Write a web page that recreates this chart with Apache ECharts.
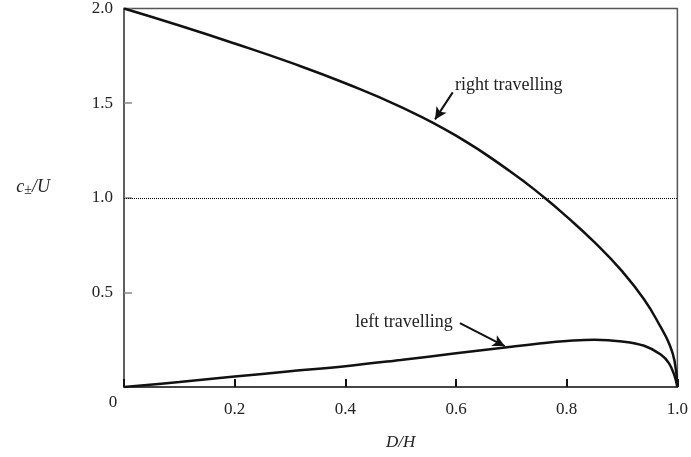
<!DOCTYPE html>
<html>
<head>
<meta charset="utf-8">
<script src="https://cdn.jsdelivr.net/npm/echarts@6/dist/echarts.min.js"></script>
<style>
  html, body { margin: 0; padding: 0; background: #fff; }
  #main { width: 691px; height: 457px; }
</style>
</head>
<body>
<div id="main"></div>
<script>
const ratio = [0, 0.1, 0.2, 0.3, 0.4, 0.5, 0.6, 0.7, 0.76, 0.8, 0.85, 0.9, 0.94, 0.97, 0.985, 0.995, 1.0]
// c+/U  (right travelling)
const rightVals = [2.0, 1.91, 1.815, 1.715, 1.605, 1.48, 1.328, 1.135, 1.0, 0.9, 0.765, 0.612, 0.462, 0.316, 0.23, 0.136, 0]
// c-/U  (left travelling)
const leftVals = [0, 0.026, 0.055, 0.083, 0.11, 0.143, 0.178, 0.213, 0.233, 0.243, 0.25, 0.241, 0.218, 0.172, 0.125, 0.058, 0]
const xTicks = [0, 0.2, 0.4, 0.6, 0.8, 1.0]
const yTicks = [0, 0.5, 1.0, 1.5, 2.0]

const font = 'Liberation Serif'
const txt = '#222'

const myChart = echarts.init(document.getElementById('main'))
window.addEventListener('resize', function () {
  myChart.resize()
})

function pairs (vals) {
  return ratio.map(function (r, i) { return [r, vals[i]] })
}

const option = {
  animation: false,
  backgroundColor: '#fff',
  grid: {
    left: 124,
    right: 10,
    top: 8,
    bottom: 70,
    show: true,
    borderColor: '#555',
    borderWidth: 1.5
  },
  xAxis: {
    type: 'value',
    min: xTicks[0],
    max: xTicks[xTicks.length - 1],
    interval: 0.2,
    name: 'D/H',
    nameLocation: 'middle',
    nameGap: 47,
    nameTextStyle: { fontFamily: font, fontStyle: 'italic', fontSize: 17, color: txt },
    axisLine: { lineStyle: { color: '#333', width: 1.5 } },
    axisTick: { inside: true, length: 8, lineStyle: { color: '#111', width: 2 } },
    splitLine: { show: false },
    axisLabel: {
      margin: 14,
      fontFamily: font,
      fontSize: 17,
      color: txt,
      formatter: function (v) {
        if (v === 0) return ''
        return v.toFixed(1)
      }
    }
  },
  yAxis: {
    type: 'value',
    min: yTicks[0],
    max: yTicks[yTicks.length - 1],
    interval: 0.5,
    name: '{i|c}{s|±}{i|/U}',
    nameLocation: 'middle',
    nameRotate: 0,
    nameGap: 74,
    nameTextStyle: {
      padding: [0, 0, 20, 0],
      rich: {
        i: { fontFamily: font, fontStyle: 'italic', fontSize: 18, color: txt },
        s: { fontFamily: font, fontSize: 14, color: txt, verticalAlign: 'bottom', padding: [6, 0, 0, 0] }
      }
    },
    axisLine: { lineStyle: { color: '#555', width: 1.5 } },
    axisTick: { inside: true, length: 8, lineStyle: { color: '#888', width: 1.5 } },
    splitLine: { show: false },
    axisLabel: {
      margin: 11,
      fontFamily: font,
      fontSize: 17,
      color: txt,
      formatter: function (v) {
        if (v === 0) return ''
        return v.toFixed(1)
      }
    }
  },
  series: [
    {
      name: 'right travelling',
      type: 'line',
      data: pairs(rightVals),
      smooth: 0.5,
      showSymbol: false,
      lineStyle: { color: '#111', width: 2.5 },
      markLine: {
        silent: true,
        animation: false,
        label: { show: false },
        data: [
          [
            { coord: [0, 1.0], symbol: 'none', lineStyle: { type: 'dotted', width: 1, color: '#000' } },
            { coord: [1, 1.0], symbol: 'none' }
          ],
          [
            { coord: [0.594, 1.557], symbol: 'none', lineStyle: { type: 'solid', width: 2, color: '#111' } },
            { coord: [0.562, 1.414], symbol: 'arrow', symbolSize: [9, 12] }
          ]
        ]
      },
      markPoint: {
        symbolSize: 0,
        silent: true,
        label: { show: true, position: 'right', distance: 0, formatter: '{b}', fontFamily: font, fontSize: 18, color: txt },
        data: [
          { name: 'right travelling', coord: [0.598, 1.594] },
          { name: '0', coord: [0, 0], label: { position: 'inside', fontSize: 17, offset: [-11, 16] } }
        ]
      }
    },
    {
      name: 'left travelling',
      type: 'line',
      data: pairs(leftVals),
      smooth: 0.4,
      showSymbol: false,
      lineStyle: { color: '#111', width: 2.5 },
      markLine: {
        silent: true,
        animation: false,
        label: { show: false },
        data: [
          [
            { coord: [0.607, 0.338], symbol: 'none', lineStyle: { type: 'solid', width: 2, color: '#111' } },
            { coord: [0.688, 0.216], symbol: 'arrow', symbolSize: [9, 12] }
          ]
        ]
      },
      markPoint: {
        symbolSize: 0,
        silent: true,
        label: { show: true, position: 'right', distance: 0, formatter: '{b}', fontFamily: font, fontSize: 18, color: txt },
        data: [
          { name: 'left travelling', coord: [0.418, 0.343] }
        ]
      }
    }
  ]
}

myChart.setOption(option)
</script>
</body>
</html>
